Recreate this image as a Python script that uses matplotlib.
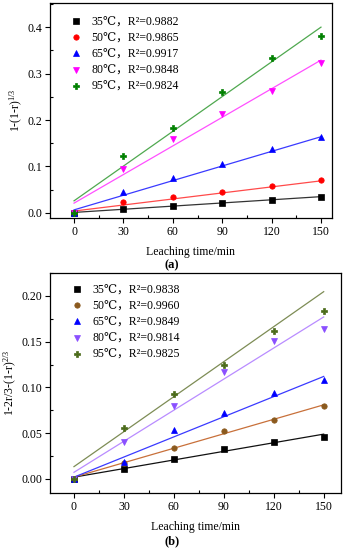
import matplotlib
matplotlib.use("Agg")
import matplotlib.pyplot as plt
from matplotlib.ticker import MultipleLocator
import numpy as np

plt.rcParams['font.family'] = ['Liberation Serif', 'DejaVu Serif', 'Noto Sans CJK SC']
plt.rcParams['mathtext.fontset'] = 'custom'
plt.rcParams['mathtext.rm'] = 'Liberation Serif'
plt.rcParams['mathtext.it'] = 'Liberation Serif:italic'

time_min = [0, 30, 60, 90, 120, 150]
temps = ["35℃", "50℃", "65℃", "80℃", "95℃"]

# Panel (a)
r2_a = ["0.9882", "0.9865", "0.9917", "0.9848", "0.9824"]
a_35 = [0.000, 0.009, 0.015, 0.021, 0.028, 0.034]
a_50 = [0.000, 0.023, 0.034, 0.045, 0.057, 0.070]
a_65 = [0.000, 0.044, 0.076, 0.105, 0.137, 0.163]
a_80 = [0.000, 0.094, 0.160, 0.212, 0.263, 0.323]
a_95 = [0.000, 0.122, 0.183, 0.261, 0.333, 0.381]
a_fit_start = [0.001, 0.004, 0.0065, 0.021, 0.026]
a_fit_end = [0.035, 0.069, 0.164, 0.329, 0.400]

# Panel (b)
r2_b = ["0.9838", "0.9960", "0.9849", "0.9814", "0.9825"]
b_35 = [0.000, 0.011, 0.022, 0.0325, 0.040, 0.0456]
b_50 = [0.000, 0.017, 0.034, 0.0525, 0.0645, 0.080]
b_65 = [0.000, 0.019, 0.053, 0.072, 0.0938, 0.1076]
b_80 = [0.000, 0.040, 0.080, 0.117, 0.151, 0.164]
b_95 = [0.000, 0.0555, 0.0927, 0.1247, 0.162, 0.1835]
b_fit_start = [0.002, 0.002, 0.002, 0.0073, 0.0135]
b_fit_end = [0.049, 0.081, 0.112, 0.177, 0.2046]

markers = ['s', 'o', '^', 'v', 'P']
a_mcolors = ['#000000', '#ff0000', '#0000ff', '#ff00ff', '#008000']
a_lcolors = ['#333333', '#ff4a4a', '#3a3aff', '#ff50ff', '#4fa84f']
b_mcolors = ['#000000', '#8b5a1e', '#0000ff', '#8a4fff', '#4b6b1a']
b_lcolors = ['#111111', '#c8703a', '#3a3aff', '#b98cff', '#7d8c55']

fig = plt.figure(figsize=(3.44, 5.50), dpi=100)
ax1 = fig.add_axes([50/344, 1-218/550, 282/344, 215/550])
ax2 = fig.add_axes([50/344, 1-493/550, 291/344, 220/550])

def draw(ax, series, starts, ends, r2s, mcols, lcols, ylim, ymaj, ymin, ylabel, xlim, leg_anchor):
    handles = []
    for i, ys in enumerate(series):
        ax.plot([time_min[0], time_min[-1]], [starts[i], ends[i]], '-', color=lcols[i], lw=0.9, zorder=2)
        h, = ax.plot(time_min, ys, linestyle='none', marker=markers[i], color=mcols[i],
                     ms=3.9 if markers[i] != 'P' else 4.3, mec=mcols[i], mew=0.5, zorder=3,
                     label=f"{temps[i]}，R²={r2s[i]}")
        handles.append(h)
    ax.set_xlim(*xlim)
    ax.set_ylim(*ylim)
    ax.xaxis.set_major_locator(MultipleLocator(30))
    ax.xaxis.set_minor_locator(MultipleLocator(15))
    ax.yaxis.set_major_locator(MultipleLocator(ymaj))
    ax.yaxis.set_minor_locator(MultipleLocator(ymin))
    ax.tick_params(which='major', direction='out', length=3.5, width=0.8, labelsize=8.5, pad=2)
    ax.tick_params(which='minor', direction='in', length=2.5, width=0.8)
    for s in ax.spines.values():
        s.set_linewidth(0.9)
    ax.set_ylabel(ylabel, fontsize=8.5, labelpad=2)
    ax.set_xlabel("Leaching time/min", fontsize=8.5, labelpad=6)
    ax.legend(handles=handles, loc='upper left', bbox_to_anchor=leg_anchor, frameon=False,
              fontsize=8.5, handlelength=0.8, handletextpad=0.9, labelspacing=0.35,
              borderaxespad=0.0)

draw(ax1, [a_35, a_50, a_65, a_80, a_95], a_fit_start, a_fit_end, r2_a, a_mcolors, a_lcolors,
     (-0.011, 0.452), 0.1, 0.05, "1-(1-r)$^{1/3}$", (-14.6, 156.7), (0.06, 0.96))
ax1.yaxis.set_major_formatter(matplotlib.ticker.FormatStrFormatter('%.1f'))

draw(ax2, [b_35, b_50, b_65, b_80, b_95], b_fit_start, b_fit_end, r2_b, b_mcolors, b_lcolors,
     (-0.0153, 0.225), 0.05, 0.025, "1-2r/3-(1-r)$^{2/3}$", (-14.4, 160.4), (0.06, 0.97))
ax2.yaxis.set_major_formatter(matplotlib.ticker.FormatStrFormatter('%.2f'))

fig.text(0.5, 1-265/550, "(a)", ha='center', va='center', fontsize=9, fontweight='bold')
fig.text(0.5, 1-541/550, "(b)", ha='center', va='center', fontsize=9, fontweight='bold')

fig.savefig("out.png", dpi=100)
